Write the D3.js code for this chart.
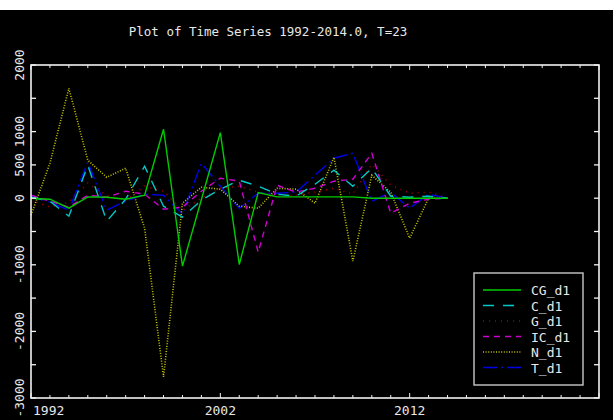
<!DOCTYPE html>
<html>
<head>
<meta charset="utf-8">
<script src="https://cdn.jsdelivr.net/npm/d3@7"></script>
<style>
  html, body { margin: 0; padding: 0; background: #000; }
  svg { display: block; }
  text { font-family: 'DejaVu Sans Mono', monospace; fill: #e8e8e8; }
</style>
</head>
<body>
<div id="chart"></div>
<script>
(function () {
  'use strict';

  // years 1992..2014 (T=23)
  const years = d3.range(1992, 2015);

  const CG_d1 = [0, -15, -150, 20, 15, -15, 45, 1035, -1020, -20, 985, -995, 85, 20, 20, 20, 20, 20, 0, 0, 0, 0, 0];
  const C_d1  = [15, -45, -270, 495, -345, -15, 480, -120, -285, -30, 135, 270, 180, 60, 30, 210, 420, 180, 450, 30, 15, 30, 0];
  const G_d1  = [-30, -135, -60, 225, 45, -30, 180, 105, -180, 0, 150, 180, 90, 30, 45, 90, 150, 60, 510, 200, 75, 90, 0];
  const IC_d1 = [45, -45, -135, 45, 15, 105, 60, -165, -135, 105, 300, 255, -810, 195, 90, 150, 255, 285, 675, -225, -75, -15, 0];
  const N_d1  = [-255, 525, 1650, 570, 315, 450, -450, -2685, -75, 165, 135, -120, -150, 150, 135, -75, 615, -945, 345, 90, -600, 0, 0];
  const T_d1  = [30, -60, -180, 540, -180, -45, 60, 45, -240, 525, 180, -150, 75, 75, 90, 345, 600, 675, -45, 90, -150, 60, 0];

  const seriesNames = ['CG_d1', 'C_d1', 'G_d1', 'IC_d1', 'N_d1', 'T_d1'];
  const seriesValues = [CG_d1, C_d1, G_d1, IC_d1, N_d1, T_d1];
  const seriesColors = ['#00cc00', '#00c8c8', '#a00000', '#d000d0', '#c8c800', '#0000e8'];
  const seriesDash = [null, '11,9', '1,5', '6,5', '1,1.6', '14,4,2,4'];

  const yTicks = d3.range(-3000, 2001, 500);
  const yTickLabels = [2000, 1000, 500, 0, -1000, -2000, -3000];
  const xTickLabels = [1992, 2002, 2012];

  const W = 613, H = 420;
  const plot = { left: 31, right: 599, top: 65, bottom: 398 };

  const svg = d3.select('#chart').append('svg').attr('width', W).attr('height', H);
  svg.append('rect').attr('width', W).attr('height', H).attr('fill', '#000');
  svg.append('rect').attr('width', W).attr('height', 10).attr('fill', '#fff');

  const x = d3.scaleLinear().domain([1992, 2022]).range([plot.left, plot.right]);
  const y = d3.scaleLinear().domain([-3000, 2000]).range([plot.bottom, plot.top]);

  // title
  svg.append('text').attr('x', 268).attr('y', 36).attr('text-anchor', 'middle')
    .style('font-size', '12.5px').text('Plot of Time Series 1992-2014.0, T=23');

  // series
  const line = d3.line().x((d, i) => x(years[i])).y(d => y(d));
  const gLines = svg.append('g');
  for (let k = seriesNames.length - 1; k >= 0; k--) {
    gLines.append('path').datum(seriesValues[k])
      .attr('fill', 'none').attr('stroke', seriesColors[k])
      .attr('stroke-width', k === 4 || k === 2 ? 1.6 : 1.4)
      .attr('stroke-dasharray', seriesDash[k])
      .attr('d', line);
  }

  // frame + ticks
  const axisCol = '#f2f2f2';
  const gAx = svg.append('g').attr('stroke', axisCol);
  gAx.append('rect').attr('x', plot.left).attr('y', plot.top)
    .attr('width', plot.right - plot.left).attr('height', plot.bottom - plot.top)
    .attr('fill', 'none').attr('stroke-width', 1.6);

  const xTicks = d3.range(1992, 2023);
  xTicks.forEach(t => {
    const len = (t - 1992) % 10 === 0 ? 5 : 3;
    gAx.append('line').attr('x1', x(t)).attr('x2', x(t))
      .attr('y1', plot.bottom).attr('y2', plot.bottom - len).attr('stroke-width', 1);
    gAx.append('line').attr('x1', x(t)).attr('x2', x(t))
      .attr('y1', plot.top).attr('y2', plot.top + len).attr('stroke-width', 1);
  });
  yTicks.forEach(t => {
    gAx.append('line').attr('x1', plot.left).attr('x2', plot.left + 5)
      .attr('y1', y(t)).attr('y2', y(t)).attr('stroke-width', 1.3);
    gAx.append('line').attr('x1', plot.right).attr('x2', plot.right - 5)
      .attr('y1', y(t)).attr('y2', y(t)).attr('stroke-width', 1.3);
  });

  // y labels (rotated)
  yTickLabels.forEach(t => {
    svg.append('text')
      .attr('transform', `translate(24,${y(t)}) rotate(-90)`)
      .attr('text-anchor', 'middle').style('font-size', '13px').text(t);
  });

  // x labels
  xTickLabels.forEach((t, i) => {
    svg.append('text').attr('x', i === 0 ? x(t) + 2 : x(t)).attr('y', 415)
      .attr('text-anchor', i === 0 ? 'start' : 'middle')
      .style('font-size', '13px').text(t);
  });

  // legend
  const lg = svg.append('g');
  lg.append('rect').attr('x', 474).attr('y', 273).attr('width', 109).attr('height', 112)
    .attr('fill', '#000').attr('stroke', '#c8c8c8').attr('stroke-width', 1.4);
  seriesNames.forEach((name, k) => {
    const yy = 290 + k * 15.5;
    lg.append('line').attr('x1', 483).attr('x2', 521).attr('y1', yy).attr('y2', yy)
      .attr('stroke', seriesColors[k]).attr('stroke-width', 1.6)
      .attr('stroke-dasharray', seriesDash[k]);
    lg.append('text').attr('x', 531).attr('y', yy + 5)
      .style('font-size', '13px').text(name);
  });
})();
</script>
</body>
</html>
